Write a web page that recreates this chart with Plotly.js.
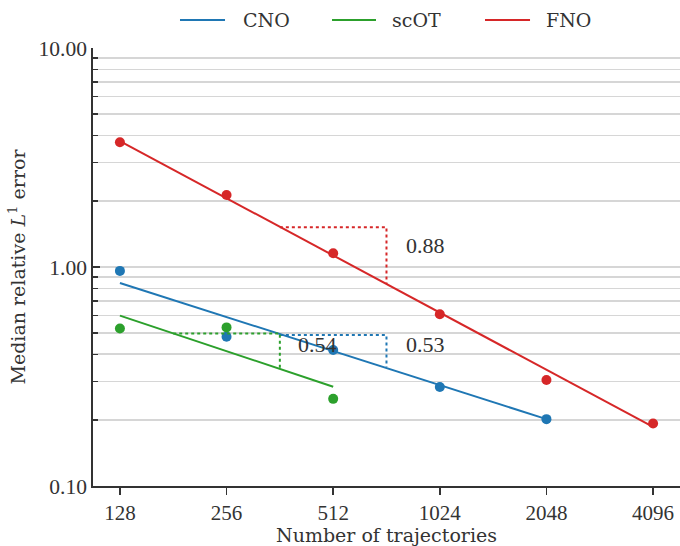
<!DOCTYPE html>
<html>
<head>
<meta charset="utf-8">
<script src="https://cdn.plot.ly/plotly-3.0.1.min.js"></script>
<style>
  html, body { margin: 0; padding: 0; background: #fff; }
  #chart { width: 680px; height: 546px; }
</style>
</head>
<body>
<div id="chart"></div>
<script>
// ---- data ----
const seriesNames = ['CNO', 'scOT', 'FNO'];
const seriesColors = ['#1f77b4', '#2ca02c', '#d62728'];

const xTickVals = [128, 256, 512, 1024, 2048, 4096];
const xTickText = ['128', '256', '512', '1024', '2048', '4096'];
const yTickVals = [0.1, 1, 10];
const yTickText = ['0.10', '1.00', '10.00'];
const yMinorVals = [0.2, 0.3, 0.4, 0.5, 0.6, 0.7, 0.8, 0.9, 2, 3, 4, 5, 6, 7, 8, 9];

const cnoX = [128, 256, 512, 1024, 2048];
const cnoErr = [0.96, 0.48, 0.418, 0.283, 0.202];
const scotX = [128, 256, 512];
const scotErr = [0.524, 0.53, 0.25];
const fnoX = [128, 256, 512, 1024, 2048, 4096];
const fnoErr = [3.71, 2.13, 1.155, 0.608, 0.305, 0.193];

// fitted power-law lines
const cnoFitX = [128, 2048];
const cnoFit = [0.845, 0.202];
const scotFitX = [128, 512];
const scotFit = [0.60, 0.284];
const fnoFitX = [128, 4096];
const fnoFit = [3.76, 0.186];

// slope triangles
const cnoTriX = [362, 724, 724];
const cnoTriY = [0.489, 0.489, 0.349];
const scotTriX = [181, 362, 362];
const scotTriY = [0.497, 0.497, 0.345];
const fnoTriX = [362, 724, 724];
const fnoTriY = [1.52, 1.52, 0.836];

// slope labels
const slopeText = ['0.53', '0.54', '0.88'];
const slopeX = [930, 463, 930];
const slopeY = [0.445, 0.445, 1.26];

// ---- traces ----
const NUMFONT = 'Liberation Serif, Times New Roman, serif';
const TXTFONT = 'DejaVu Serif, Liberation Serif, serif';
const INK = '#333';
const pts = [[cnoX, cnoErr], [scotX, scotErr], [fnoX, fnoErr]];
const fits = [[cnoFitX, cnoFit], [scotFitX, scotFit], [fnoFitX, fnoFit]];
const tris = [[cnoTriX, cnoTriY], [scotTriX, scotTriY], [fnoTriX, fnoTriY]];

const traces = [];
for (let i = 0; i < 3; i++) {
  traces.push({
    x: fits[i][0], y: fits[i][1], mode: 'lines', name: seriesNames[i],
    line: {color: seriesColors[i], width: 2}, showlegend: false, hoverinfo: 'skip'
  });
  traces.push({
    x: tris[i][0], y: tris[i][1], mode: 'lines',
    line: {color: seriesColors[i], width: 2, dash: 'dot'}, showlegend: false, hoverinfo: 'skip'
  });
  traces.push({
    x: pts[i][0], y: pts[i][1], mode: 'markers', name: seriesNames[i],
    marker: {color: seriesColors[i], size: 10}, showlegend: false
  });
}

// ---- custom legend (line sample + label), paper coords ----
const legLineX0 = [0.1482, 0.4072, 0.6678];
const legLineX1 = [0.2249, 0.4821, 0.7445];
const legTextX = [0.2521, 0.5060, 0.7683];
const legY = 1.064;

const shapes = [];
const annotations = [];
for (let i = 0; i < 3; i++) {
  shapes.push({
    type: 'line', xref: 'paper', yref: 'paper',
    x0: legLineX0[i], x1: legLineX1[i], y0: legY, y1: legY,
    line: {color: seriesColors[i], width: 2}
  });
  annotations.push({
    xref: 'paper', yref: 'paper', x: legTextX[i], y: legY,
    text: seriesNames[i], showarrow: false, xanchor: 'left', yanchor: 'middle',
    font: {family: TXTFONT, size: 19, color: INK}
  });
}
for (let i = 0; i < slopeText.length; i++) {
  annotations.push({
    x: Math.log10(slopeX[i]), y: Math.log10(slopeY[i]), xref: 'x', yref: 'y',
    text: slopeText[i], showarrow: false, xanchor: 'center', yanchor: 'middle',
    font: {family: NUMFONT, size: 22, color: INK}
  });
}

const layout = {
  width: 680, height: 546,
  margin: {l: 93, r: 0, t: 48, b: 60},
  paper_bgcolor: '#fff', plot_bgcolor: '#fff',
  font: {family: NUMFONT, size: 21, color: INK},
  showlegend: false,
  xaxis: {
    type: 'log',
    range: [Math.log10(128) - 0.076, Math.log10(4096) + 0.076],
    tickvals: xTickVals, ticktext: xTickText,
    ticks: 'outside', ticklen: 7, tickwidth: 1.5, tickcolor: INK,
    showline: true, linecolor: INK, linewidth: 1.8,
    showgrid: false, zeroline: false,
    tickfont: {family: NUMFONT, size: 21, color: INK},
    title: {text: 'Number of trajectories', font: {family: TXTFONT, size: 19, color: INK}, standoff: 8}
  },
  yaxis: {
    type: 'log', range: [-1, 1],
    tickvals: yTickVals, ticktext: yTickText,
    ticks: 'inside', ticklen: 7, tickwidth: 1.5, tickcolor: INK,
    showline: true, linecolor: INK, linewidth: 1.8,
    showgrid: true, gridcolor: '#d6d6d6', gridwidth: 1.3,
    zeroline: false,
    minor: {tickvals: yMinorVals, ticks: 'inside', ticklen: 5, tickwidth: 1.2, tickcolor: INK,
            showgrid: true, gridcolor: '#d6d6d6', gridwidth: 1.3},
    tickfont: {family: NUMFONT, size: 21.5, color: INK},
    title: {text: 'Median relative <i>L</i><sup>1</sup> error', font: {family: TXTFONT, size: 19, color: INK}, standoff: 8}
  },
  shapes: shapes,
  annotations: annotations
};

Plotly.newPlot('chart', traces, layout, {displayModeBar: false, staticPlot: true});
</script>
</body>
</html>
